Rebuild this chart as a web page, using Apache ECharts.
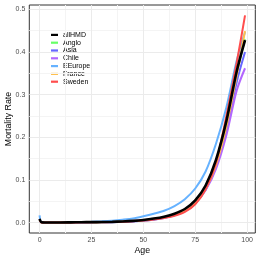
<!DOCTYPE html>
<html><head><meta charset="utf-8">
<script src="https://cdn.jsdelivr.net/npm/echarts@6/dist/echarts.min.js"></script>
<style>html,body{margin:0;padding:0;background:#fff}#c{width:260px;height:260px}</style>
</head><body><div id="c"></div>
<script>
const ages = [0,1,5,10,15,20,25,30,35,40,45,50,55,60,65,70,75,80,85,90,95,99];
const allHMD  = [0.009,0.001,0.0003,0.0003,0.0006,0.001,0.0012,0.0014,0.0019,0.0028,0.0042,0.0063,0.0095,0.014,0.021,0.032,0.052,0.087,0.147,0.238,0.355,0.428];
const Anglo   = [0.007,0.0005,0.0002,0.0002,0.0005,0.0009,0.001,0.0011,0.0015,0.0022,0.0034,0.0053,0.0082,0.0125,0.019,0.029,0.048,0.082,0.14,0.23,0.35,0.43];
const Asia    = [0.005,0.0005,0.0002,0.0002,0.0003,0.0005,0.0006,0.0008,0.0011,0.0017,0.0027,0.0043,0.007,0.011,0.017,0.027,0.045,0.077,0.13,0.215,0.33,0.40];
const Chile   = [0.008,0.0006,0.0003,0.0003,0.0006,0.001,0.0012,0.0014,0.0018,0.0025,0.0037,0.0055,0.0085,0.012,0.018,0.028,0.046,0.076,0.126,0.205,0.31,0.362];
const EEurope = [0.017,0.001,0.0004,0.0004,0.0008,0.0015,0.002,0.003,0.0045,0.0068,0.0098,0.015,0.021,0.028,0.039,0.055,0.08,0.12,0.185,0.27,0.38,0.447];
const France  = [0.006,0.0005,0.0002,0.0002,0.0005,0.001,0.0011,0.0012,0.0016,0.0024,0.0037,0.0056,0.0085,0.012,0.018,0.027,0.045,0.078,0.135,0.225,0.345,0.449];
const Sweden  = [0.006,0.0004,0.0002,0.0002,0.0004,0.0008,0.0009,0.001,0.0013,0.002,0.0031,0.0048,0.0075,0.011,0.016,0.025,0.043,0.078,0.14,0.25,0.375,0.486];

const xTicks = [0,25,50,75,100];
const xMinor = [12.5,37.5,62.5,87.5];
const yTicks = [0,0.1,0.2,0.3,0.4,0.5];
const yMinor = [0.05,0.15,0.25,0.35,0.45];

const groups = [
  {name:'allHMD', data:allHMD, color:'#000000'},
  {name:'Anglo', data:Anglo, color:'#66FF66'},
  {name:'Asia', data:Asia, color:'#6666FF'},
  {name:'Chile', data:Chile, color:'#B266FF'},
  {name:'EEurope', data:EEurope, color:'#66B2FF'},
  {name:'France', data:France, color:'#FFC04D'},
  {name:'Sweden', data:Sweden, color:'#FF4D4D'}
];

const FONT = 'Liberation Sans, Arial, sans-serif';
const chart = echarts.init(document.getElementById('c'), null, {renderer:'canvas'});

const gridSeries = {
  type:'line', data:[], silent:true, z:1,
  markLine:{
    silent:true, symbol:['none','none'], label:{show:false}, animation:false,
    data: [
      ...xMinor.map(v=>({xAxis:v, lineStyle:{color:'#F4F4F4', width:1, type:'solid'}})),
      ...yMinor.map(v=>({yAxis:v, lineStyle:{color:'#F4F4F4', width:1, type:'solid'}})),
      ...xTicks.map(v=>({xAxis:v, lineStyle:{color:'#EBEBEB', width:1, type:'solid'}})),
      ...yTicks.map(v=>({yAxis:v, lineStyle:{color:'#EBEBEB', width:1, type:'solid'}}))
    ]
  }
};

const lineSeries = groups.map((g,i)=>({
  name:g.name, type:'line', showSymbol:false, smooth:0.3,
  data: ages.map((a,j)=>[a,g.data[j]]),
  lineStyle:{color:g.color, width: g.name==='allHMD'?2.6:2},
  itemStyle:{color:g.color},
  z: g.name==='allHMD'?10:3+i,
  animation:false
}));

chart.setOption({
  animation:false,
  backgroundColor:'#ffffff',
  grid:{left:29.3, right:4.7, top:5, bottom:27, show:true, borderColor:'#333333', borderWidth:1, backgroundColor:'#ffffff', containLabel:false, outerBoundsMode:'none'},
  legend:{
    orient:'vertical', left:46, top:26, itemWidth:7, itemHeight:2.2, itemGap:0, icon:'rect',
    data: groups.map(g=>g.name),
    textStyle:{fontFamily:FONT, fontSize:7, color:'#000', lineHeight:7.8}
  },
  xAxis:{
    type:'value', min:-4.95, max:103.95,
    name:'Age', nameLocation:'middle', nameGap:12.7, nameMoveOverlap:false,
    nameTextStyle:{fontFamily:FONT, fontSize:8.8, color:'#000'},
    axisLine:{show:false},
    axisTick:{show:true, length:2.75, lineStyle:{color:'#333333', width:1}, customValues:xTicks},
    axisLabel:{customValues:xTicks, fontFamily:FONT, fontSize:7, color:'#4D4D4D', margin:4},
    splitLine:{show:false}
  },
  yAxis:{
    type:'value', min:-0.0243, max:0.5103,
    name:'Mortality Rate', nameLocation:'middle', nameGap:16, nameMoveOverlap:false,
    nameTextStyle:{fontFamily:FONT, fontSize:8.8, color:'#000'},
    axisLine:{show:false},
    axisTick:{show:true, length:2.75, lineStyle:{color:'#333333', width:1}, customValues:yTicks},
    axisLabel:{customValues:yTicks, fontFamily:FONT, fontSize:7, color:'#4D4D4D', margin:4, formatter:v=>v.toFixed(1)},
    splitLine:{show:false}
  },
  series:[gridSeries, ...lineSeries]
});
</script></body></html>
